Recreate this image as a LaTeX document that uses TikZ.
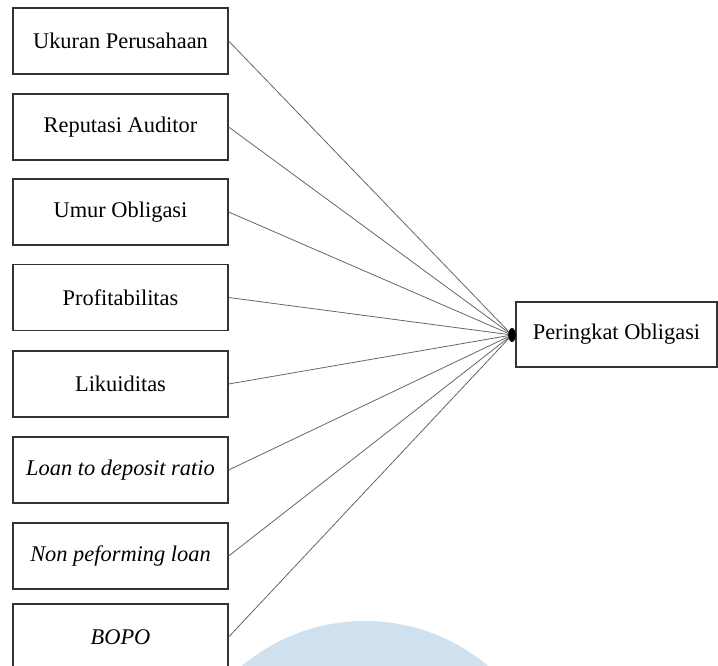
\documentclass[tikz,border=0pt]{standalone}
\usepackage{fontspec}
\setmainfont{Liberation Serif}
\usepackage{tikz}
\definecolor{ringblue}{RGB}{207,224,239}

\begin{document}
\begin{tikzpicture}[x=1pt,y=-1pt,
                    var/.style={rectangle,draw=black!80,line width=1.3pt,fill=white,minimum width=215pt,minimum height=66pt,inner sep=0pt,font=\fontsize{22.4}{26}\selectfont},
                    link/.style={black!60,line width=0.8pt}]
                      \useasboundingbox (0,0) rectangle (718,666);
                      \clip (0,0) rectangle (718,666);
                      \fill[ringblue] (365,812) circle (191);
                      \node (n1) at (120.5,41) [var] {Ukuran Perusahaan};
                      \node (n2) at (120.5,127) [var] {Reputasi Auditor};
                      \node (n3) at (120.5,212) [var] {Umur Obligasi};
                      \node (n4) at (120.5,297.5) [var] {Profitabilitas};
                      \node (n5) at (120.5,384) [var] {Likuiditas};
                      \node (n6) at (120.5,470) [var] {\textit{Loan to deposit ratio}};
                      \node (n7) at (120.5,556) [var] {\textit{Non peforming loan}};
                      \node (n8) at (120.5,637) [var] {\textit{BOPO}};
                      \node (pk) at (616.5,334.5) [var,minimum width=201pt,minimum height=65pt] {Peringkat Obligasi};
                      \coordinate (tip) at (512,335);
                      \foreach \i in {1,...,8}
                        \draw[link] (n\i.east) -- (tip);
                      \fill[black] (tip) ellipse (3.6 and 7);
                \end{tikzpicture}
\end{document}
